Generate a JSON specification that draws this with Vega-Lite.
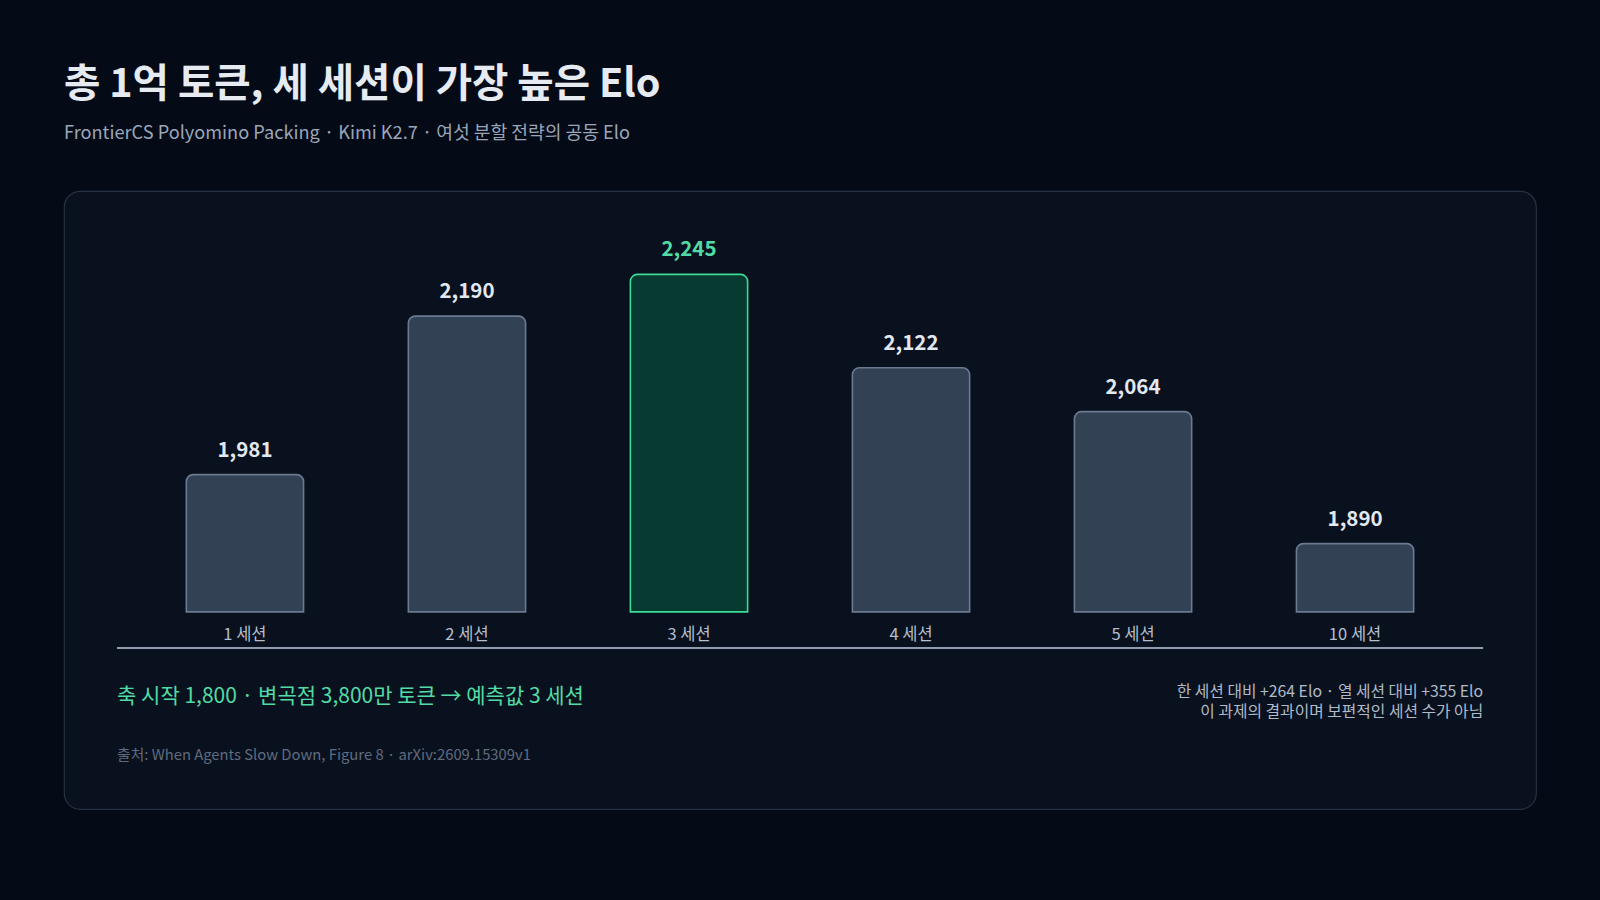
{
  "$schema": "https://vega.github.io/schema/vega-lite/v6.json",
  "autosize": {"type": "none"},
  "padding": {"left": 64, "top": 191, "right": 64, "bottom": 91},
  "width": 1472,
  "height": 618,
  "background": "#050a17",
  "title": {
    "text": "총 1억 토큰, 세 세션이 가장 높은 Elo",
    "subtitle": "FrontierCS Polyomino Packing · Kimi K2.7 · 여섯 분할 전략의 공동 Elo",
    "anchor": "start",
    "frame": "group",
    "font": "Noto Sans CJK KR",
    "fontSize": 39.5,
    "fontWeight": "bold",
    "color": "#e6eaf1",
    "subtitleFont": "Noto Sans CJK KR",
    "subtitleFontSize": 18.2,
    "subtitleColor": "#9aa6b8",
    "subtitlePadding": 19,
    "offset": 48
  },
  "config": {
    "view": {"fill": "#0a111e", "stroke": "#263142", "strokeWidth": 1.2, "cornerRadius": 16},
    "font": "Noto Sans CJK KR"
  },
  "data": {
    "values": [
      {"session": "1 세션", "elo": 1981},
      {"session": "2 세션", "elo": 2190},
      {"session": "3 세션", "elo": 2245},
      {"session": "4 세션", "elo": 2122},
      {"session": "5 세션", "elo": 2064},
      {"session": "10 세션", "elo": 1890}
    ]
  },
  "encoding": {
    "x": {
      "field": "session",
      "type": "nominal",
      "sort": null,
      "axis": null,
      "scale": {"paddingInner": 0.472, "paddingOuter": 0.551}
    }
  },
  "layer": [
    {
      "mark": {"type": "bar", "cornerRadiusTopLeft": 7, "cornerRadiusTopRight": 7, "strokeWidth": 1.6},
      "encoding": {
        "y": {"field": "elo", "type": "quantitative", "axis": null,
              "scale": {"domain": [1540, 2355], "zero": false, "nice": false}},
        "y2": {"datum": 1800},
        "fill": {"condition": {"test": "datum.session === '3 세션'", "value": "#073b32"}, "value": "#334155"},
        "stroke": {"condition": {"test": "datum.session === '3 세션'", "value": "#3ddc97"}, "value": "#6b7a90"}
      }
    },
    {
      "mark": {"type": "text", "baseline": "alphabetic", "dy": -18, "fontSize": 20.5, "fontWeight": "bold"},
      "encoding": {
        "y": {"field": "elo", "type": "quantitative"},
        "text": {"field": "elo", "type": "quantitative", "format": ","},
        "color": {"condition": {"test": "datum.session === '3 세션'", "value": "#52dba4"}, "value": "#e2e8f0"}
      }
    },
    {
      "mark": {"type": "text", "baseline": "middle", "fontSize": 16.5, "color": "#b4bfcd"},
      "encoding": {
        "y": {"datum": 1769.5},
        "text": {"field": "session"}
      }
    },
    {
      "data": {"values": [{"start": "1 세션", "end": "10 세션"}]},
      "mark": {"type": "rule", "color": "#909cb0", "strokeWidth": 2},
      "encoding": {
        "x": {"field": "start", "type": "nominal", "bandPosition": -0.591},
        "x2": {"field": "end", "bandPosition": 1.593},
        "y": {"datum": 1752.3}
      }
    },
    {
      "data": {"values": [{"anchor": "1 세션", "note": "축 시작 1,800 · 변곡점 3,800만 토큰 → 예측값 3 세션"}]},
      "mark": {"type": "text", "align": "left", "baseline": "middle", "fontSize": 21, "color": "#52dba4"},
      "encoding": {
        "x": {"field": "anchor", "type": "nominal", "bandPosition": -0.591},
        "y": {"datum": 1688},
        "text": {"field": "note"}
      }
    },
    {
      "data": {"values": [{"anchor": "1 세션", "note": "출처: When Agents Slow Down, Figure 8 · arXiv:2609.15309v1"}]},
      "mark": {"type": "text", "align": "left", "baseline": "middle", "fontSize": 14.8, "color": "#5f6b7e"},
      "encoding": {
        "x": {"field": "anchor", "type": "nominal", "bandPosition": -0.591},
        "y": {"datum": 1610},
        "text": {"field": "note"}
      }
    },
    {
      "data": {"values": [
        {"anchor": "10 세션", "line": 1694.5, "note": "한 세션 대비 +264 Elo · 열 세션 대비 +355 Elo"},
        {"anchor": "10 세션", "line": 1667.5, "note": "이 과제의 결과이며 보편적인 세션 수가 아님"}
      ]},
      "mark": {"type": "text", "align": "right", "baseline": "middle", "fontSize": 15.8, "color": "#b0bac8"},
      "encoding": {
        "x": {"field": "anchor", "type": "nominal", "bandPosition": 1.593},
        "y": {"field": "line", "type": "quantitative"},
        "text": {"field": "note"}
      }
    }
  ]
}
